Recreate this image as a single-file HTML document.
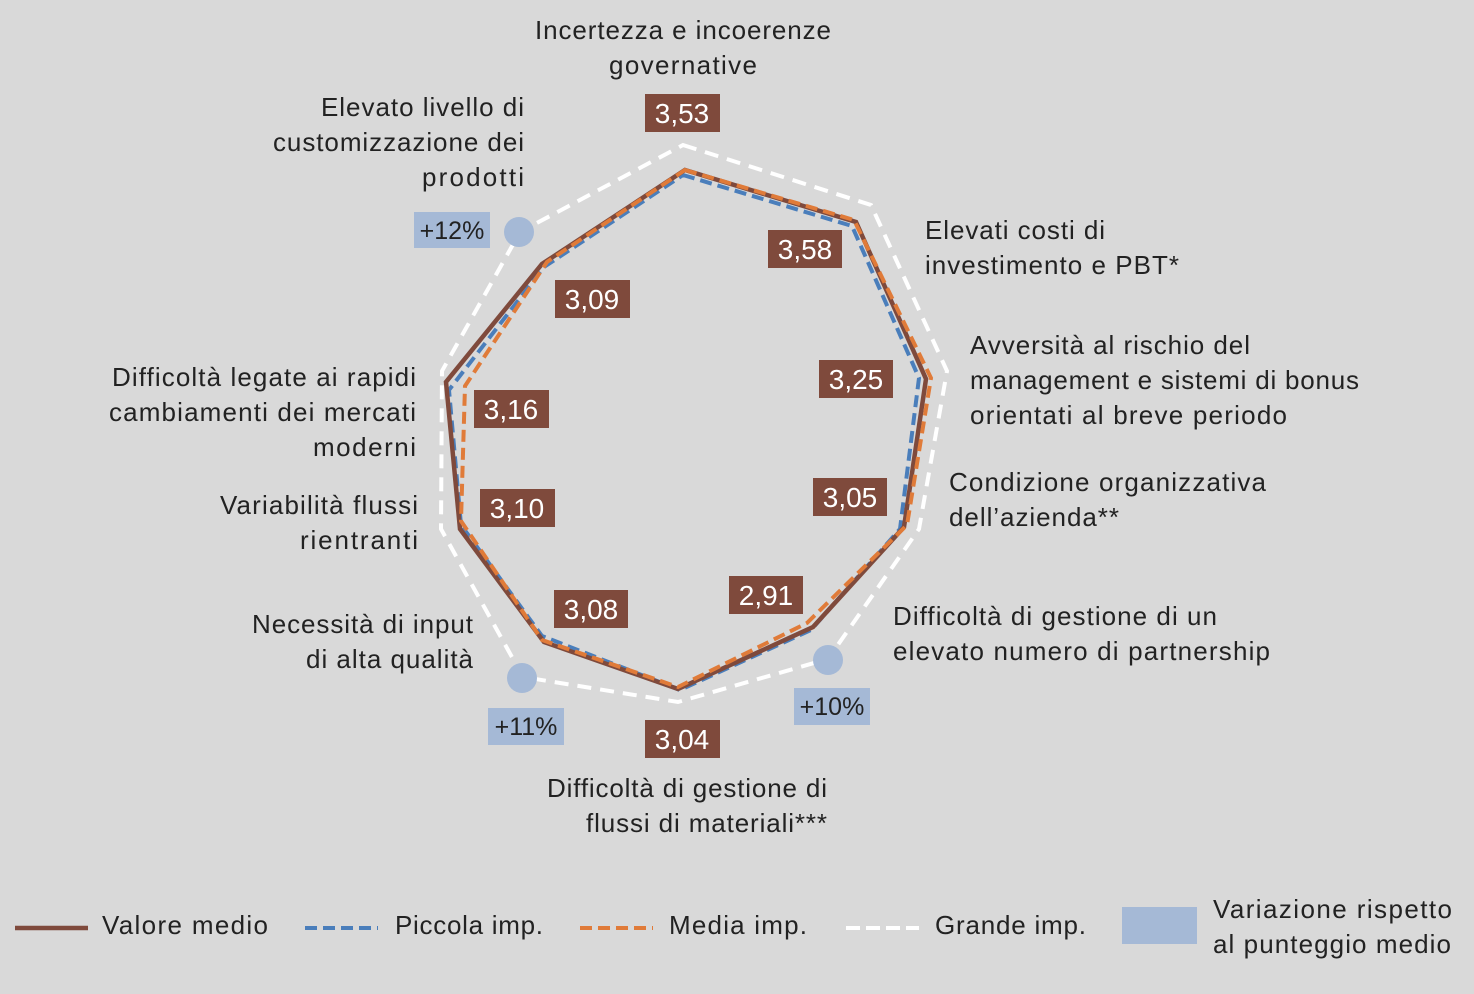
<!DOCTYPE html>
<html><head><meta charset="utf-8"><style>
html,body{margin:0;padding:0;background:#d9d9d9;}
svg{display:block;font-family:"Liberation Sans",sans-serif;}
</style></head><body>
<svg width="1474" height="994" viewBox="0 0 1474 994" xmlns="http://www.w3.org/2000/svg">
<rect width="1474" height="994" fill="#d9d9d9"/>
<polygon points="683,145 871,205 947,371 919,529 828,659 678,702 523,677 441,529 442,371 520,232" fill="none" stroke="#fff" stroke-width="4" stroke-dasharray="14,9"/>
<polygon points="683,175 852,226 919,378 900,529 811,630 680,690 542,636 461,525 449,390 544,267" fill="none" stroke="#4a7ebb" stroke-width="4" stroke-dasharray="12,6"/>
<polygon points="685,170 856,222 926,379 904,527 813,627 678,689 544,642 460,529 446,382 542,264" fill="none" stroke="#7f4a3c" stroke-width="4.5"/>
<polygon points="685,170 854,220 931,378 907,525 807,623 678,687 542,640 461,521 465,386 547,262" fill="none" stroke="#e07b39" stroke-width="4" stroke-dasharray="12,6"/>
<circle cx="519" cy="232" r="15" fill="#a5b9d6"/>
<circle cx="522" cy="678" r="15" fill="#a5b9d6"/>
<circle cx="828" cy="660" r="15" fill="#a5b9d6"/>
<g fill="#a5b9d6">
<rect x="414" y="212" width="76" height="36"/>
<rect x="488" y="708" width="76" height="37"/>
<rect x="794" y="688" width="76" height="37"/>
</g>
<g font-size="25" fill="#222" text-anchor="middle">
<text x="452" y="239">+12%</text>
<text x="526" y="735">+11%</text>
<text x="832" y="715">+10%</text>
</g>
<g fill="#7f4a3c">
<rect x="645" y="94" width="75" height="38"/>
<rect x="768" y="230" width="74" height="38"/>
<rect x="555" y="280" width="75" height="38"/>
<rect x="474" y="390" width="75" height="38"/>
<rect x="819" y="360" width="74" height="38"/>
<rect x="480" y="489" width="75" height="38"/>
<rect x="813" y="478" width="74" height="38"/>
<rect x="554" y="590" width="74" height="38"/>
<rect x="729" y="576" width="74" height="38"/>
<rect x="645" y="720" width="75" height="38"/>
</g>
<g font-size="28" fill="#fff" text-anchor="middle">
<text x="682" y="123">3,53</text>
<text x="805" y="259">3,58</text>
<text x="592" y="309">3,09</text>
<text x="511" y="419">3,16</text>
<text x="856" y="389">3,25</text>
<text x="517" y="518">3,10</text>
<text x="850" y="507">3,05</text>
<text x="591" y="619">3,08</text>
<text x="766" y="605">2,91</text>
<text x="682" y="749">3,04</text>
</g>
<g font-size="26" fill="#222">
<text x="683" y="39" text-anchor="middle" textLength="296">Incertezza e incoerenze</text>
<text x="683" y="74" text-anchor="middle" textLength="148">governative</text>
<g text-anchor="end">
<text x="524" y="116" textLength="203">Elevato livello di</text>
<text x="524" y="151" textLength="251">customizzazione dei</text>
<text x="524" y="186" textLength="102">prodotti</text>
<text x="416" y="386" textLength="304">Difficoltà legate ai rapidi</text>
<text x="416" y="421" textLength="307">cambiamenti dei mercati</text>
<text x="416" y="456" textLength="103">moderni</text>
<text x="418" y="514" textLength="198">Variabilità flussi</text>
<text x="418" y="549" textLength="118">rientranti</text>
<text x="473" y="633" textLength="221">Necessità di input</text>
<text x="473" y="668" textLength="167">di alta qualità</text>
<text x="827" y="797" textLength="280">Difficoltà di gestione di</text>
<text x="827" y="832" textLength="241">flussi di materiali***</text>
</g>
<text x="925" y="239" textLength="180">Elevati costi di</text>
<text x="925" y="274" textLength="254">investimento e PBT*</text>
<text x="970" y="354" textLength="280">Avversità al rischio del</text>
<text x="970" y="389" textLength="389">management e sistemi di bonus</text>
<text x="970" y="424" textLength="317">orientati al breve periodo</text>
<text x="949" y="491" textLength="317">Condizione organizzativa</text>
<text x="949" y="526" textLength="170">dell’azienda**</text>
<text x="893" y="625" textLength="324">Difficoltà di gestione di un</text>
<text x="893" y="660" textLength="377">elevato numero di partnership</text>
</g>
<line x1="15" y1="928" x2="88" y2="928" stroke="#7f4a3c" stroke-width="4.5"/>
<line x1="305" y1="928" x2="378" y2="928" stroke="#4a7ebb" stroke-width="4" stroke-dasharray="12,6"/>
<line x1="580" y1="928" x2="653" y2="928" stroke="#e07b39" stroke-width="4" stroke-dasharray="12,6"/>
<line x1="846" y1="928" x2="919" y2="928" stroke="#fff" stroke-width="4" stroke-dasharray="14,6"/>
<rect x="1122" y="907" width="75" height="37" fill="#a5b9d6"/>
<g font-size="26" fill="#222">
<text x="102" y="934" textLength="166">Valore medio</text>
<text x="395" y="934" textLength="148">Piccola imp.</text>
<text x="669" y="934" textLength="138">Media imp.</text>
<text x="935" y="934" textLength="151">Grande imp.</text>
<text x="1213" y="918" textLength="239">Variazione rispetto</text>
<text x="1213" y="953" textLength="238">al punteggio medio</text>
</g>
</svg>
</body></html>
